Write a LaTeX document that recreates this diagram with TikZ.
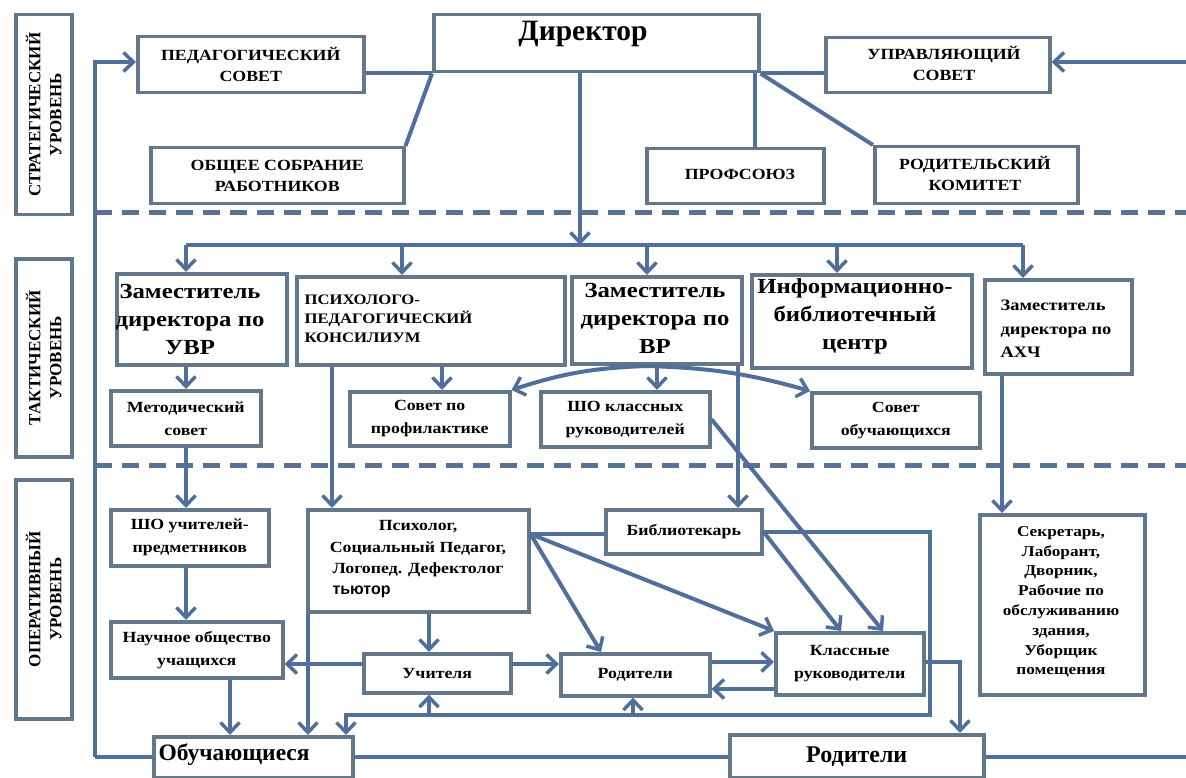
\documentclass[tikz,border=0pt]{standalone}
\usepackage{fontspec}
\setmainfont{Liberation Serif}
\newfontfamily\wide[FakeStretch=1.15]{Liberation Serif}
\newfontfamily\tutfont{Liberation Sans}
\usetikzlibrary{arrows.meta}
\definecolor{ln}{RGB}{80,112,155}
\definecolor{bx}{RGB}{98,118,140}
\definecolor{dsh}{RGB}{88,114,148}
\newcommand\mybox[6]{%
  \node[box,anchor=north west,minimum width={(#4-#2)*1pt},minimum height={(#5-#3)*1pt},#6] (#1) at (#2,#3) {};}
\begin{document}
\begin{tikzpicture}[x=1pt,y=-1pt,
  box/.style={draw=bx,line width=3.5pt,fill=white,inner sep=0pt},
  con/.style={draw=ln,line width=4pt},
  arr/.style={con,-{Straight Barb[length=10pt,width=19pt,line width=3.5pt]}},
  dline/.style={draw=dsh,line width=5pt,dash pattern=on 17pt off 10pt},
  t/.style={text=black,align=center},
  capsA/.style={t,font=\fontsize{15.5}{21}\selectfont\bfseries\wide},
  lvlT/.style={t,font=\fontsize{17}{21}\selectfont\bfseries},
  bigT/.style={t,font=\fontsize{21.5}{28}\selectfont\bfseries\wide},
  smallT/.style={t,font=\fontsize{15.5}{23}\selectfont\bfseries\wide},
]
\useasboundingbox (0,0) rectangle (1186,778);
\fill[white] (0,0) rectangle (1186,778);

% helper coordinates
\foreach \x in {95,186,230,308,332,346,402,429,442,580,601,633,647,657,738,755,837,841,883,930,960,1002,1023}
  {\coordinate (c\x) at (\x,0);}
\foreach \y in {62,245,366,534,531,662,664,689,715,753}
  {\coordinate (r\y) at (0,\y);}

% dashed level separators
\draw[dline] (95,213) -- (1186,213);
\draw[dline] (95,465) -- (1186,465);

% level labels
\mybox{strat}{14}{13}{70}{213}{}
\mybox{takt}{14}{257}{70}{455}{}
\mybox{oper}{14}{478}{70}{717}{}
\node[lvlT,rotate=90] (stratT) at (strat) {СТРАТЕГИЧЕСКИЙ\\УРОВЕНЬ};
\node[lvlT,rotate=90] (taktT) at (takt) {ТАКТИЧЕСКИЙ\\УРОВЕНЬ};
\node[lvlT,rotate=90] (operT) at (oper) {ОПЕРАТИВНЫЙ\\УРОВЕНЬ};

% strategic level
\mybox{ped}{136}{35}{362}{91}{}
\mybox{obsh}{149}{146}{402}{202}{}
\mybox{dir}{432}{13}{757}{70}{}
\mybox{upr}{824}{36}{1048}{91}{}
\mybox{prof}{645}{147}{822}{202}{}
\mybox{rodk}{873}{145}{1076}{202}{}
\node[capsA] (pedT) at (ped) {ПЕДАГОГИЧЕСКИЙ\\СОВЕТ};
\node[capsA] (obshT) at (obsh) {ОБЩЕЕ СОБРАНИЕ\\РАБОТНИКОВ};
\node[t,font=\fontsize{29.5}{32}\selectfont\bfseries] (dirT) at (583,34) {Директор};
\node[capsA] (uprT) at (944,63) {УПРАВЛЯЮЩИЙ\\СОВЕТ};
\node[capsA] (profT) at (740,174) {ПРОФСОЮЗ};
\node[capsA] (rodkT) at (975,173) {РОДИТЕЛЬСКИЙ\\КОМИТЕТ};

% tactical level
\mybox{uvr}{115}{272}{285}{363}{}
\mybox{ppk}{295}{275}{563}{363}{}
\mybox{vr}{570}{275}{740}{362}{}
\mybox{ibc}{750}{273}{970}{366}{}
\mybox{ahch}{983}{278}{1130}{372}{}
\node[bigT] (uvrT) at (190,319) {Заместитель\\директора по\\УВР};
\node[t,font=\fontsize{14.5}{19}\selectfont\bfseries\wide,align=left,anchor=north west] (ppkT) at (301,291) {ПСИХОЛОГО-\\ПЕДАГОГИЧЕСКИЙ\\КОНСИЛИУМ};
\node[bigT] (vrT) at (655,318) {Заместитель\\директора по\\ВР};
\node[bigT] (ibcT) at (855,316) {Информационно-\\библиотечный\\центр};
\node[t,font=\fontsize{16}{23.5}\selectfont\bfseries\wide,align=left] (ahchT) at (1056,329) {Заместитель\\директора по\\АХЧ};

\mybox{metod}{109}{389}{259}{444}{}
\mybox{sovprof}{348}{390}{508}{444}{}
\mybox{shokl}{539}{390}{708}{445}{}
\mybox{sovob}{810}{391}{978}{446}{}
\node[smallT] (metodT) at (metod) {Методический\\совет};
\node[smallT] (sovprofT) at (sovprof) {Совет по\\профилактике};
\node[smallT] (shoklT) at (shokl) {ШО классных\\руководителей};
\node[smallT] (sovobT) at (sovob) {Совет\\обучающихся};

% operational level
\mybox{shouch}{109}{508}{267}{564}{}
\mybox{psy}{306}{508}{527}{610}{}
\mybox{bibl}{604}{508}{760}{552}{}
\mybox{sekr}{978}{513}{1143}{693}{}
\mybox{nauch}{109}{620}{281}{676}{}
\mybox{uchit}{362}{652}{509}{691}{}
\mybox{rodm}{559}{652}{708}{694}{}
\mybox{klass}{774}{631}{922}{693}{}
\mybox{obuch}{152}{735}{351}{776}{}
\mybox{rodb}{728}{733}{982}{776}{}
\node[smallT] (shouchT) at (shouch) {ШО учителей-\\предметников};
\node[t,font=\fontsize{15.5}{21.5}\selectfont\bfseries\wide] (psyT) at (418,549) {Психолог,\\Социальный Педагог,\\Логопед. Дефектолог};
\node[t,font=\fontsize{16}{18}\selectfont\bfseries\tutfont,anchor=west] (tutT) at (329,592) {тьютор};
\node[smallT] (biblT) at (bibl) {Библиотекарь};
\node[t,font=\fontsize{15}{19.8}\selectfont\bfseries\wide] (sekrT) at (1061,602) {Секретарь,\\Лаборант,\\Дворник,\\Рабочие по\\обслуживанию\\здания,\\Уборщик\\помещения};
\node[smallT] (nauchT) at (nauch) {Научное общество\\учащихся};
\node[smallT] (uchitT) at (uchit) {Учителя};
\node[smallT] (rodmT) at (rodm) {Родители};
\node[smallT] (klassT) at (klass) {Классные\\руководители};
\node[t,font=\fontsize{23.5}{26}\selectfont\bfseries,anchor=west] (obuchT) at (155,755) {Обучающиеся};
\node[t,font=\fontsize{24}{26}\selectfont\bfseries] (rodbT) at (rodb) {Родители};

% ---- connectors: strategic
\draw[arr] (c95 |- obuch.west) -- (c95 |- r62) -- (ped.west |- r62);
\draw[con] (c95 |- obuch.west) -- (obuch.west);
\draw[con] (obuch.east) -- (rodb.west |- obuch.east);
\draw[con] (rodb.east |- obuch.east) -- (1190,0 |- obuch.east);
\draw[arr] (1190,0 |- r62) -- (upr.east |- r62);
\draw[con] (dir.south west) -- (dir.south west -| ped.east);
\draw[con] (dir.south east) -- (dir.south east -| upr.west);
\draw[con] (obsh.north east) -- (dir.south west);
\draw[con] (dir.south east) -- (rodk.north west);
\draw[con] (dir.south -| c755) -- (prof.north -| c755);

% director to the tactical bus
\draw[con] (c186 |- r245) -- (c1023 |- r245);
\draw[arr] (dir.south -| c580) -- (c580 |- r245);
\draw[arr] (c186 |- r245) -- (uvr.north -| c186);
\draw[arr] (c402 |- r245) -- (ppk.north -| c402);
\draw[arr] (c647 |- r245) -- (vr.north -| c647);
\draw[arr] (c837 |- r245) -- (ibc.north -| c837);
\draw[arr] (c1023 |- r245) -- (ahch.north -| c1023);

% tactical
\draw[arr] (uvr.south -| c186) -- (metod.north -| c186);
\draw[arr] (ppk.south -| c442) -- (sovprof.north -| c442);
\draw[arr] (vr.south -| c657) -- (shokl.north -| c657);
\draw[arr] (c647 |- r366) to[bend right=8] (sovprof.north east);
\draw[arr] (c647 |- r366) to[bend left=7] (sovob.north west);
\draw[arr] (ppk.south -| c332) -- (psy.north -| c332);
\draw[arr] (vr.south -| c738) -- (bibl.north -| c738);
\draw[arr] (ahch.south -| c1002) -- (sekr.north -| c1002);
\draw[arr] (shokl.east) -- (klass.north -| c883);

% operational
\draw[arr] (metod.south -| c186) -- (shouch.north -| c186);
\draw[arr] (shouch.south -| c186) -- (nauch.north -| c186);
\draw[arr] (nauch.south -| c230) -- (obuch.north -| c230);
\draw[arr] (psy.south -| c308) -- (obuch.north -| c308);
\draw[arr] (psy.south -| c429) -- (uchit.north -| c429);
\draw[arr] (uchit.west |- r664) -- (nauch.east |- r664);
\draw[arr] (uchit.east |- r664) -- (rodm.west |- r664);
\draw[arr] (rodm.east |- r662) -- (klass.west |- r662);
\draw[arr] (klass.west |- r689) -- (rodm.east |- r689);
\coordinate (pf) at (psy.east |- r534);
\draw[con] (pf) -- (bibl.west |- r534);
\draw[arr] (pf) -- (rodm.north -| c601);
\draw[arr] (pf) -- (klass.north west);
\draw[arr] (bibl.east) -- (klass.north -| c841);
\draw[arr] (bibl.east) -- (c930 |- bibl.east) -- (c930 |- r715) -- (c346 |- r715) -- (obuch.north -| c346);
\draw[arr] (c429 |- r715) -- (uchit.south -| c429);
\draw[arr] (c633 |- r715) -- (rodm.south -| c633);
\draw[arr] (klass.east |- r662) -- (c960 |- r662) -- (rodb.north -| c960);
\end{tikzpicture}
\end{document}
